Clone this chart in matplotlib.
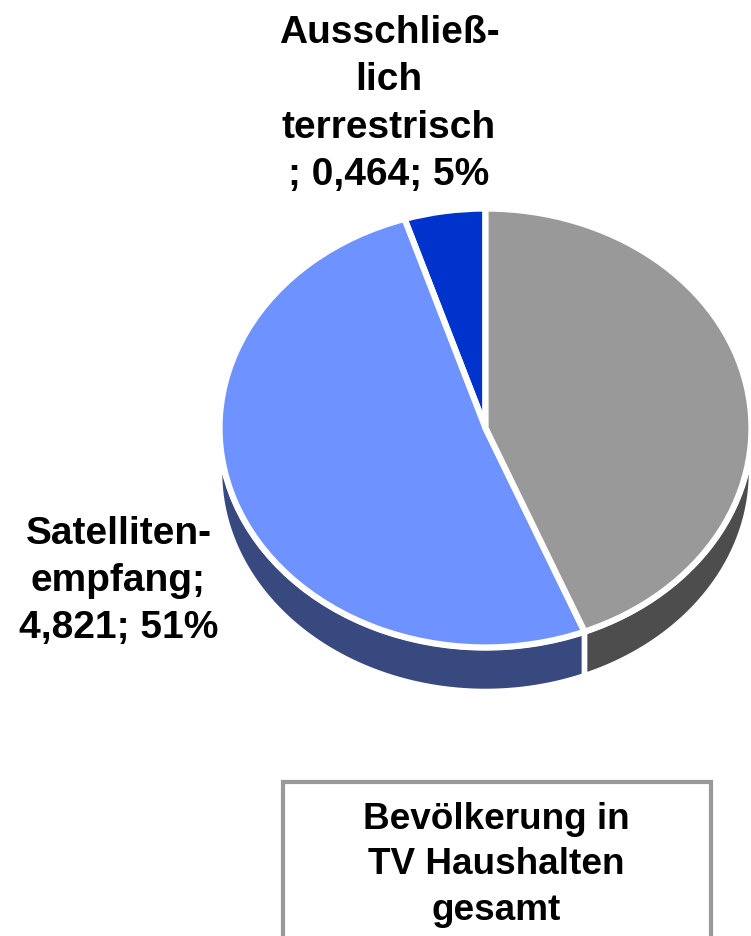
import numpy as np
import matplotlib
matplotlib.use("Agg")
import matplotlib.pyplot as plt
from matplotlib.patches import Rectangle

plt.rcParams['font.family'] = ['Liberation Sans', 'DejaVu Sans']

W, H = 751, 936

# order runs counterclockwise from 12 o'clock, grey slice has no visible label
names = ["Ausschließ-\nlich\nterrestrisch\n; 0,464; 5%", "Satelliten-\nempfang;\n4,821; 51%", ""]
values = [0.464, 4.821, 4.14]
top_colors = ["#0033CC", "#6E92FF", "#999999"]
side_colors = ["#001A66", "#384980", "#4D4D4D"]
box_text = "Bevölkerung in\nTV Haushalten\ngesamt"

# ellipse of the pie in pixels
cx, cy, rx, ry, depth = 485.5, 428, 266, 219.5, 44

fig = plt.figure(figsize=(W / 100, H / 100), dpi=100, facecolor="white")

# pie axes sized to the ellipse, auto aspect squashes the circle
ax = fig.add_axes([(cx - rx) / W, 1 - (cy + ry) / H, 2 * rx / W, 2 * ry / H])
d = depth / ry

# sides first, only the part of each slice facing the viewer
start = 90.0
total = sum(values)
for v, c in zip(values, side_colors):
    end = start + v / total * 360
    a0, a1 = max(start, 180), min(end, 360)
    if a1 > a0:
        t = np.radians(np.linspace(a0, a1, 120))
        xs = np.r_[np.cos(t), np.cos(t)[::-1]]
        ys = np.r_[np.sin(t), np.sin(t)[::-1] - d]
        ax.fill(xs, ys, color=c, ec="white", lw=4, clip_on=False, zorder=1)
    start = end

wedges, _ = ax.pie(values, colors=top_colors, startangle=90, counterclock=True,
                   radius=1, wedgeprops=dict(edgecolor="white", linewidth=4.5, zorder=2))
for w in wedges:
    w.set_clip_on(False)
ax.set_aspect("auto")
ax.set_xlim(-1, 1)
ax.set_ylim(-1, 1)
ax.axis("off")

# overlay in pixel coordinates for the labels and the box
ov = fig.add_axes([0, 0, 1, 1], facecolor="none")
ov.set_xlim(0, W)
ov.set_ylim(H, 0)
ov.axis("off")

txt = dict(ha="center", va="center", fontweight="bold", color="black")
ov.text(389, 104, names[0], fontsize=28, linespacing=1.41, **txt)
ov.text(118.5, 581, names[1], fontsize=28, linespacing=1.40, **txt)
ov.add_patch(Rectangle((283, 782), 428, 200, fc="white", ec="#999999", lw=3))
ov.text(496.5, 865, box_text, fontsize=26.6, linespacing=1.38, **txt)

fig.savefig("out.png", dpi=100)
